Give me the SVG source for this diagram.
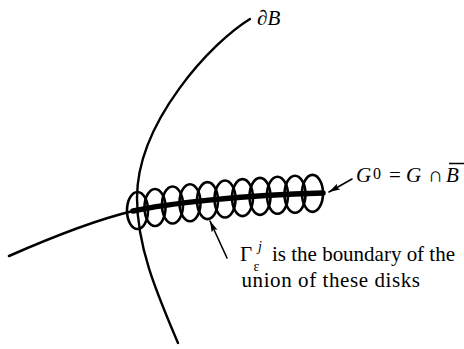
<svg xmlns="http://www.w3.org/2000/svg" width="464" height="349" viewBox="0 0 464 349">
<style>
.ln{fill:none;stroke:#000;stroke-linecap:round}
.disk{fill:none;stroke:#000;stroke-width:2.6}
.t{font-family:"Liberation Serif","Times New Roman",serif;fill:#000}
.it{font-style:italic}
</style>
<defs>
<marker id="ah" markerUnits="userSpaceOnUse" markerWidth="12" markerHeight="8" refX="11" refY="4" orient="auto">
<path d="M0,0.8 L11,4 L0,7.2 L2,4 Z" fill="#000"/>
</marker>
</defs>
<g id="boundaryB">
<path class="ln" stroke-width="2.4" d="M250,19 C212,42 137,122 137,198 C137,250 160,300 178,343"/>
</g>
<g id="curveG">
<path class="ln" stroke-width="2.6" d="M9,256 C50,238 95,220 133,211"/>
<path class="ln" stroke-width="5.5" d="M133,211 C165,204 240,195 323,193"/>
</g>
<g id="disks">
<ellipse class="disk" cx="137.5" cy="210.5" rx="10.5" ry="18.5"/>
<ellipse class="disk" cx="155" cy="207.5" rx="10.5" ry="18.5"/>
<ellipse class="disk" cx="172.5" cy="205" rx="10.5" ry="18.5"/>
<ellipse class="disk" cx="190" cy="202.8" rx="10.5" ry="18.5"/>
<ellipse class="disk" cx="207.5" cy="200.6" rx="10.5" ry="18.5"/>
<ellipse class="disk" cx="225" cy="199" rx="10.5" ry="18.5"/>
<ellipse class="disk" cx="242.5" cy="197.6" rx="10.5" ry="18.5"/>
<ellipse class="disk" cx="260" cy="196.4" rx="10.5" ry="18.5"/>
<ellipse class="disk" cx="277.5" cy="195.3" rx="10.5" ry="18.5"/>
<ellipse class="disk" cx="295" cy="194.3" rx="10.5" ry="18.5"/>
<ellipse class="disk" cx="312.5" cy="193.4" rx="10.5" ry="18.5"/>
</g>
<g id="connectors">
<line class="ln" stroke-width="1.6" x1="227" y1="258" x2="210" y2="221" marker-end="url(#ah)"/>
<line class="ln" stroke-width="1.6" x1="352" y1="179" x2="329" y2="192" marker-end="url(#ah)"/>
</g>
<g id="label-dB">
<text class="t it" x="257" y="25" font-size="21">∂B</text>
</g>
<g id="label-G0">
<text class="t" font-size="21"><tspan class="it" x="356" y="182">G</tspan><tspan x="373" y="179" font-size="16">0</tspan><tspan x="389" y="182">=</tspan><tspan class="it" x="406" y="182">G</tspan><tspan x="428" y="182">∩</tspan><tspan class="it" x="446" y="182">B</tspan></text>
<line x1="449" y1="163.5" x2="464" y2="163.5" stroke="#000" stroke-width="1.5"/>
</g>
<g id="label-gamma">
<text class="t" font-size="21"><tspan x="240" y="261">Γ</tspan><tspan x="253.5" y="271" font-size="14">ε</tspan><tspan class="it" x="258" y="251" font-size="14">j</tspan><tspan x="272" y="261" textLength="183" lengthAdjust="spacing">is the boundary of the</tspan><tspan x="241.5" y="287" textLength="178.5" lengthAdjust="spacing">union of these disks</tspan></text>
</g>
</svg>
